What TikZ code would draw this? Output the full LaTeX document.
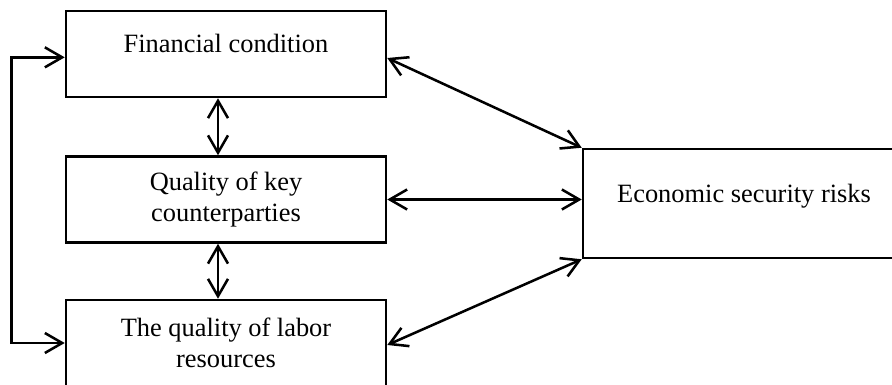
\documentclass[tikz,border=0pt]{standalone}
\usepackage{fontspec}
\setmainfont{Liberation Serif}
\usetikzlibrary{arrows.meta, positioning, calc}
\tikzset{
    box/.style={rectangle, draw=black, line width=1.9pt, minimum width=240pt,
        minimum height=64.5pt, align=center, inner sep=2pt,
        font=\fontsize{19.8}{23.5}\selectfont},
    oneline/.style={text height=13.5pt, text depth=15.7pt},
    arrow/.style={{Straight Barb[length=13pt,width=15pt]}-{Straight Barb[length=13pt,width=15pt]}, line width=1.9pt}
}

\begin{document}
\begin{tikzpicture}[x=0.75pt, y=-0.75pt]

    \clip (0,0) rectangle (892,385);

    \node[box, oneline] (fin) at (226,54) {Financial condition};
    \node[box] (qual) at (226,199.5) {Quality of key\\counterparties};
    \node[box] (labor) at (226,343) {The quality of labor\\resources};

    \node[box, oneline, minimum width=241.5pt, minimum height=81.75pt] (eco) at (744,203.5) {Economic security risks};

    \draw[arrow] ([xshift=-6pt]fin.south) -- ([xshift=-6pt]qual.north);
    \draw[arrow] ([xshift=-6pt]qual.south) -- ([xshift=-6pt]labor.north);
    \draw[arrow] ([yshift=-2.5pt]fin.west) -- ++(-40pt,0) |- (labor.west);

    \draw[arrow] ([yshift=-3pt]fin.east) -- (eco.north west);
    \draw[arrow] (qual.east) -- (qual.east -| eco.west);
    \draw[arrow] ([yshift=-1.5pt]labor.east) -- (eco.south west);

\end{tikzpicture}
\end{document}
